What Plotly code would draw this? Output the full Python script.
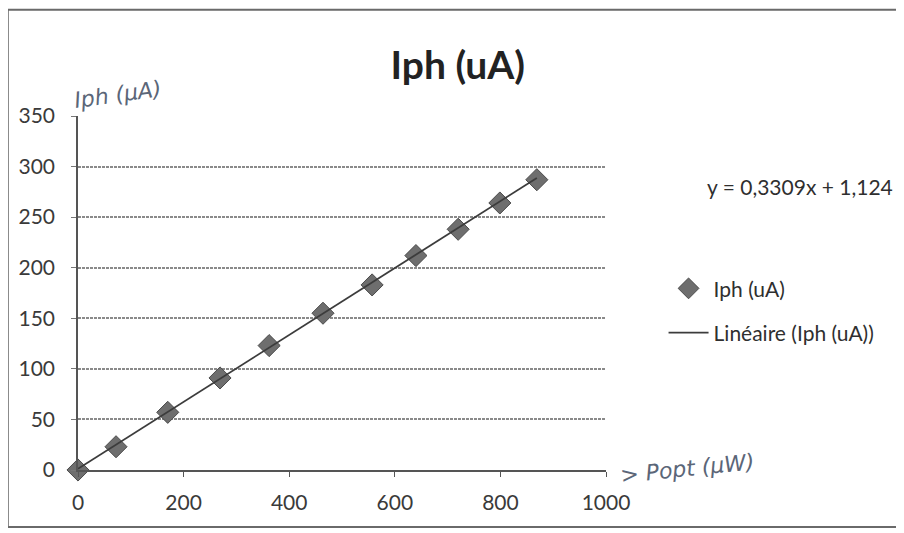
import plotly.graph_objects as go

# Data
p_opt = [0, 72, 170, 269, 362, 464, 557, 640, 720, 799, 869]
i_ph = [0, 23, 57, 91, 123, 155, 183, 212, 238, 264, 287]
slope = 0.3309
intercept = 1.124
x_ticks = [0, 200, 400, 600, 800, 1000]
y_ticks = [0, 50, 100, 150, 200, 250, 300, 350]

fit_x = [min(p_opt), max(p_opt)]
fit_y = [slope * x + intercept for x in fit_x]

FONT = "Lato, 'Open Sans', sans-serif"

fig = go.Figure()
fig.add_trace(go.Scatter(
    x=p_opt, y=i_ph, mode="markers", name="Iph (uA)", legendgroup="a",
    marker=dict(symbol="diamond", size=17, color="#6e6e6e",
                line=dict(color="#4a4a4a", width=1)),
    cliponaxis=False,
))
fig.add_trace(go.Scatter(
    x=fit_x, y=fit_y, mode="lines", name="Linéaire (Iph (uA))", legendgroup="b",
    line=dict(color="#3c3c3c", width=1.8),
))

fig.update_layout(
    width=896, height=525,
    margin=dict(l=70, r=298, t=108, b=63),
    paper_bgcolor="#ffffff", plot_bgcolor="#ffffff",
    font=dict(family=FONT, size=21, color="#3a3a3a"),
    title=dict(text="<b>Iph (uA)</b>", x=0.502, xanchor="center",
               y=0.891, yanchor="middle",
               font=dict(family=FONT, size=39, color="#222222")),
    showlegend=True,
    legend=dict(x=1.109, y=0.57, xanchor="left", yanchor="top",
                itemwidth=40, tracegroupgap=14,
                font=dict(family=FONT, size=21, color="#2f2f2f"),
                bgcolor="rgba(0,0,0,0)"),
    xaxis=dict(range=[0, 1000], tickvals=x_ticks, showgrid=False,
               zeroline=False, showline=True, linecolor="#555", linewidth=1.5,
               ticks="outside", ticklen=5, tickcolor="#555",
               ticklabelstandoff=8,
               tickfont=dict(family=FONT, size=21, color="#3a3a3a")),
    yaxis=dict(range=[0, 350], tickvals=y_ticks, showgrid=True,
               gridcolor="#8a8a8a", gridwidth=2.4, griddash="3px,1px",
               zeroline=False, showline=True, linecolor="#555", linewidth=1.5,
               ticks="outside", ticklen=5, tickcolor="#777",
               ticklabelstandoff=12,
               tickfont=dict(family=FONT, size=21, color="#3a3a3a")),
)

# Equation of the trend line
fig.add_annotation(xref="paper", yref="paper", x=1.367, y=0.80,
                   xanchor="center", yanchor="middle",
                   text="y = 0,3309x + 1,124", showarrow=False,
                   font=dict(family=FONT, size=21, color="#2f2f2f"))

# Handwritten notes
fig.add_annotation(xref="paper", yref="paper", x=0.076, y=1.06,
                   xanchor="center", yanchor="middle",
                   text="<i>Iph (µA)</i>", showarrow=False, textangle=-8,
                   font=dict(family="DejaVu Sans", size=22, color="#5b6678"))
fig.add_annotation(xref="paper", yref="paper", x=1.155, y=0.005,
                   xanchor="center", yanchor="middle",
                   text="<i>> Popt (µW)</i>", showarrow=False, textangle=-6,
                   font=dict(family="DejaVu Sans", size=22, color="#5b6678"))

# Outer chart frame
fig.add_shape(type="rect", xref="paper", yref="paper",
              x0=-0.133, x1=1.555, y0=-0.161, y1=1.30,
              line=dict(color="#6a6a6a", width=2), fillcolor="rgba(0,0,0,0)",
              layer="below")

fig.write_html("out.html")
